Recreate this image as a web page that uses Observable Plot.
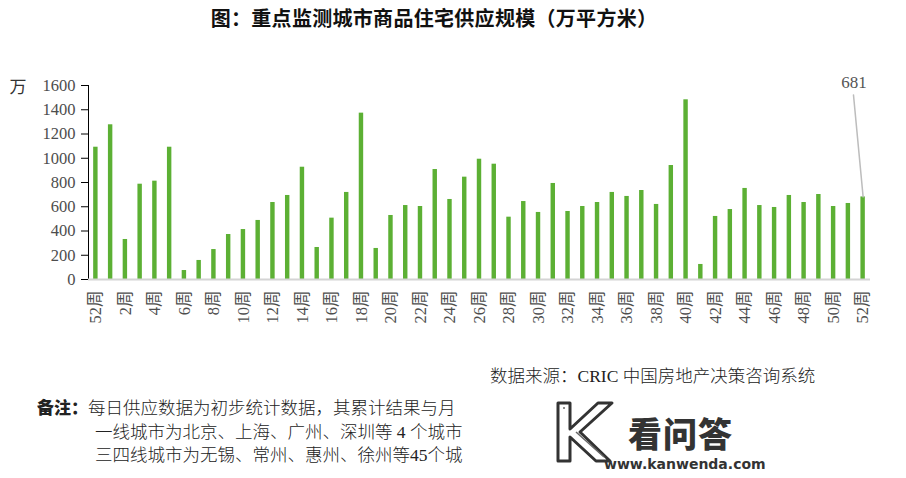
<!DOCTYPE html>
<html>
<head>
<meta charset="utf-8">
<script src="https://cdn.jsdelivr.net/npm/d3@7"></script>
<script src="https://cdn.jsdelivr.net/npm/@observablehq/plot@0.6"></script>
<style>
  html, body { margin: 0; padding: 0; background: #fff; }
  body { width: 906px; height: 478px; position: relative; overflow: hidden; font-family: "Noto Sans CJK SC", sans-serif; }
  #title { position: absolute; top: 5px; left: 0; width: 868px; text-align: center; font-size: 20px; font-weight: bold; line-height: 26px; color: #111; letter-spacing: 0.3px; }
  #chart { position: absolute; top: 40px; left: 0; }
  #chart svg text { font-family: 'Liberation Serif', 'Noto Sans CJK SC', serif; }
  #chart g[aria-label="y-axis tick label"], #chart g[aria-label="x-axis tick label"] { fill: #4d4d4d; }
  #source { position: absolute; left: 490px; top: 364px; font-size: 17.5px; line-height: 24px; color: #222; white-space: nowrap; font-family: 'Liberation Serif', 'Noto Sans CJK SC', serif; font-weight: 300; }
  #note { position: absolute; left: 37px; top: 395px; width: 439px; overflow: hidden; font-size: 17.5px; line-height: 23.5px; color: #222; white-space: nowrap; font-family: 'Liberation Serif', 'Noto Sans CJK SC', serif; font-weight: 300; }
  #note b { font-family: "Noto Sans CJK SC", sans-serif; font-weight: 900; font-size: 17px; }
  #note .indent { padding-left: 58px; }
  #wm { position: absolute; left: 478px; top: 393px; width: 330px; height: 85px; background: #fff; }
  #wmK { position: absolute; left: 76px; top: 6px; }
  #wmT { position: absolute; left: 150px; top: 20px; font-size: 34px; line-height: 40px; font-weight: 900; color: #333; letter-spacing: 1px; }
  #wmU { position: absolute; left: 126px; top: 63px; font: bold 14px/16px "DejaVu Sans", sans-serif; color: #333; }
</style>
</head>
<body>
<div id="title">图：重点监测城市商品住宅供应规模（万平方米）</div>
<div id="chart"></div>
<div id="source">数据来源：CRIC 中国房地产决策咨询系统</div>
<div id="note">
  <div><b>备注：</b>每日供应数据为初步统计数据，其累计结果与月</div>
  <div class="indent">一线城市为北京、上海、广州、深圳等 4 个城市</div>
  <div class="indent">三四线城市为无锡、常州、惠州、徐州等45个城</div>
</div>
<div id="wm">
  <svg id="wmK" width="60" height="66" viewBox="0 0 60 66">
    <path d="M4,4 L16,4 L16,30 L44,4 L58,4 L26,33 L56,62 L42,62 L16,38 L16,62 L4,62 Z" fill="#fff" stroke="#333" stroke-width="3" stroke-linejoin="round"/>
    <path d="M9,9 L11,9 M22,33 L50,58" fill="none" stroke="#666" stroke-width="1.5"/>
  </svg>
  <div id="wmT">看问答</div><div id="wmU">www.kanwenda.com</div>
</div>
<script>
const weeks = ["52周","1周","2周","3周","4周","5周","6周","7周","8周","9周","10周","11周","12周","13周","14周","15周","16周","17周","18周","19周","20周","21周","22周","23周","24周","25周","26周","27周","28周","29周","30周","31周","32周","33周","34周","35周","36周","37周","38周","39周","40周","41周","42周","43周","44周","45周","46周","47周","48周","49周","50周","51周","52周"];
const supply = [1091,1276,330,786,811,1091,74,157,247,371,412,487,635,693,926,264,506,718,1372,256,528,610,602,907,660,844,992,951,514,643,553,792,561,602,635,718,685,734,619,940,1482,124,520,577,751,610,594,693,635,701,602,627,681];
const yTicks = [0,200,400,600,800,1000,1200,1400,1600];
const unitLabel = ["万"];

const data = weeks.map((w, i) => ({i, week: w, value: supply[i]}));
const lastPoint = [data[data.length - 1]];

function build(useVector) {
  const leader = useVector
    ? Plot.vector(lastPoint, {x: "i", y: "value", anchor: "start", length: 102.5, rotate: -5.4, stroke: "#bdbdbd", strokeWidth: 1.5,
        shape: {draw(ctx, l) { ctx.moveTo(0, 0); ctx.lineTo(0, -l); }}})
    : Plot.link(lastPoint, {x1: "i", x2: "i", y1: "value", y2: () => 1535, stroke: "#bdbdbd", strokeWidth: 1.5});
  return Plot.plot({
    width: 906, height: 300,
    marginTop: 45, marginBottom: 61, marginLeft: 88, marginRight: 36,
    style: {fontFamily: "'Liberation Serif', 'Noto Sans CJK SC', serif", fontSize: "16.5px", color: "#000", background: "#fff", overflow: "visible"},
    x: {type: "band", domain: data.map(d => d.i), paddingInner: 0.7, paddingOuter: 0.35,
        tickSize: 0, tickPadding: 11, tickRotate: -90, tickFormat: i => (i % 2 === 0 ? weeks[i] : ""), label: null},
    y: {domain: [0, 1600], ticks: yTicks, tickSize: 7, tickPadding: 6, line: true, label: null, tickFormat: d => String(d)},
    marks: [
      Plot.barY(data, {x: "i", y: "value", fill: "#5cb034"}),
      Plot.ruleY([0], {stroke: "#d4d4d4", strokeWidth: 2}),
      Plot.text(unitLabel, {frameAnchor: "top-left", textAnchor: "start", text: d => d, dx: -79, dy: -5, fontSize: 17, fill: "#333"}),
      leader,
      Plot.text(lastPoint, {x: "i", y: "value", text: d => String(d.value), dx: -9, dy: -114, fontSize: 17, fill: "#555"})
    ]
  });
}

let chart;
try { chart = build(true); } catch (e) { chart = build(false); }
document.getElementById("chart").appendChild(chart);
</script>
</body>
</html>
